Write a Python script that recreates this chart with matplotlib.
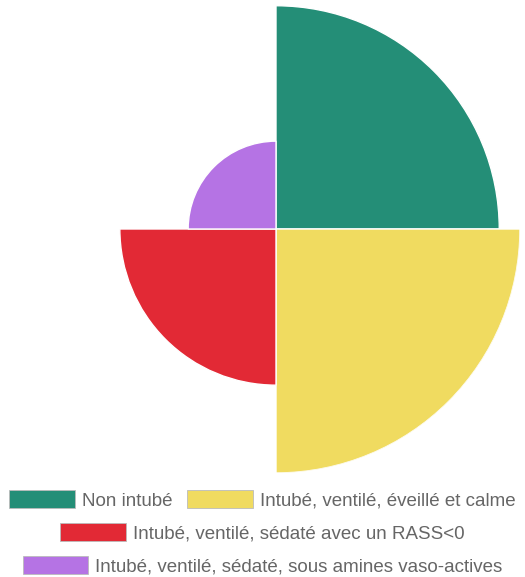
import numpy as np
import matplotlib
matplotlib.use('Agg')
import matplotlib.pyplot as plt
from matplotlib.patches import Patch

plt.rcParams['font.family'] = ['Liberation Sans', 'DejaVu Sans']

labels = ["Non intubé",
          "Intubé, ventilé, éveillé et calme",
          "Intubé, ventilé, sédaté avec un RASS<0",
          "Intubé, ventilé, sédaté, sous amines vaso-actives"]
values = [9.15, 10.0, 6.4, 3.6]
colors = ["#248e77", "#f0db60", "#e22935", "#b573e4"]
legend_rows = [[0, 1], [2], [3]]

fig = plt.figure(figsize=(5.25, 5.77), dpi=100)
W, H = 525, 577
cx, cy, R = 276, 229, 244
ax = fig.add_axes([(cx - R) / W, (H - cy - R) / H, 2 * R / W, 2 * R / H],
                  projection='polar')
ax.set_theta_zero_location('N')
ax.set_theta_direction(-1)

n = len(values)
width = 2 * np.pi / n
theta = np.arange(n) * width
ax.bar(theta, values, width=width, align='edge', color=colors,
       edgecolor='white', linewidth=1)
ax.set_ylim(0, max(values))
ax.set_axis_off()

# legend: three centred rows like the original
row_y = [500, 533, 566]
for row, y in zip(legend_rows, row_y):
    handles = [Patch(facecolor=colors[i], edgecolor='#bbbbbb', linewidth=0.6)
               for i in row]
    fig.legend(handles, [labels[i] for i in row], loc='center',
               bbox_to_anchor=(0.5, 1 - y / H), ncol=len(row),
               frameon=False, fontsize=13.5, labelcolor='#666666',
               handlelength=3.5, handleheight=1.07, handletextpad=0.37,
               columnspacing=0.8, borderpad=0, borderaxespad=0)

fig.savefig("out.png", dpi=100)
